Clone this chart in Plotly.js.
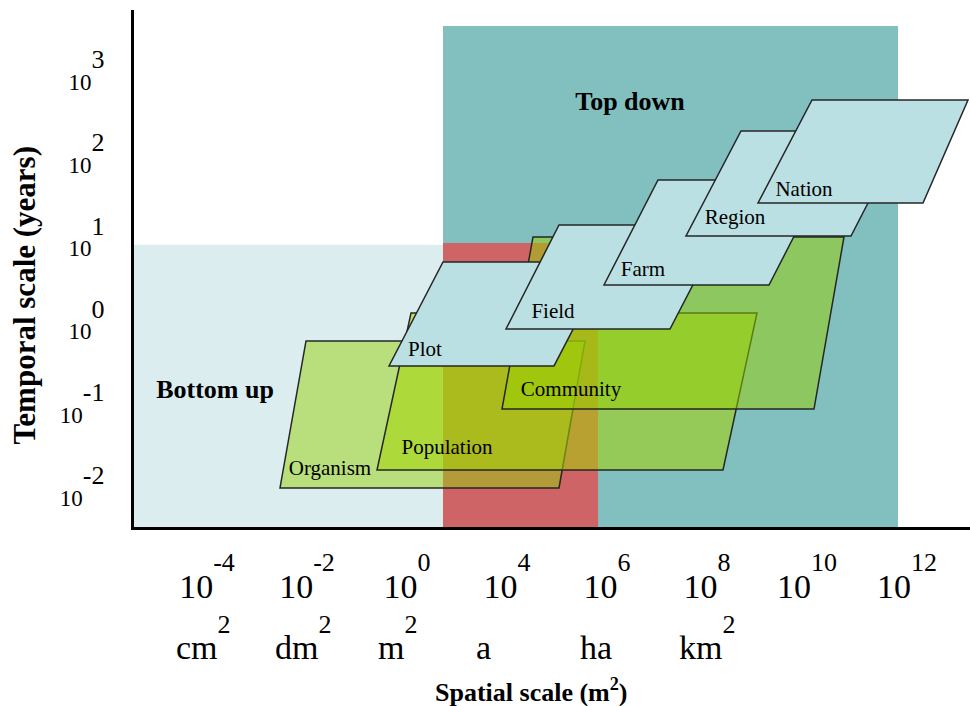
<!DOCTYPE html>
<html><head><meta charset="utf-8">
<script src="https://cdn.plot.ly/plotly-3.0.1.min.js"></script>
<style>html,body{margin:0;padding:0;background:#fff}#chart{width:970px;height:706px}</style>
</head><body><div id="chart"></div>
<script>
// ---- x axis: spatial scale steps (ordered positions) ----
const xTickPos = [0, 1, 2, 3, 4, 5, 6, 7];
const xTickExp = ['-4', '-2', '0', '4', '6', '8', '10', '12'];
const unitNames = ['cm', 'dm', 'm', 'a', 'ha', 'km'];
const unitSquared = [true, true, true, false, false, true];
const unitPos = [-0.035, 0.96, 1.90, 2.76, 3.89, 5.0];

// ---- y axis: temporal scale, log10(years) ----
const yTickPos = [-2, -1, 0, 1, 2, 3];

// ---- approach zones ----
const zoneNames = ['Bottom up', 'Top down', 'Overlap'];
const zoneXMin = [-0.73, 2.36, 2.36];
const zoneXMax = [2.36, 6.91, 3.91];
const zoneTMin = [-2.351, -2.351, -2.351];
const zoneTMax = [1.04, 3.67, 1.063];
const zoneLabelX = [0.08, 4.23];
const zoneLabelT = [-0.728, 2.745];

// ---- hierarchical levels (parallelograms) ----
const levelNames = ['Organism', 'Population', 'Community', 'Plot', 'Field', 'Farm', 'Region', 'Nation'];
const levelBotXMin = [0.73, 1.70, 2.95, 1.82, 2.99, 3.97, 4.79, 5.51];
const levelBotXMax = [3.52, 5.16, 6.07, 3.47, 4.63, 5.62, 6.44, 7.16];
const levelTopXMin = [0.99, 2.04, 3.26, 2.36, 3.52, 4.51, 5.34, 6.05];
const levelTopXMax = [3.78, 5.50, 6.37, 4.01, 5.17, 6.16, 6.98, 7.61];
const levelTMin = [-1.882, -1.666, -0.933, -0.415, 0.029, 0.558, 1.147, 1.543];
const levelTMax = [-0.115, 0.221, 1.135, 0.834, 1.279, 1.820, 2.409, 2.781];
const levelLabelX = [1.23, 2.40, 3.64, 2.18, 3.46, 4.36, 5.28, 5.97];
const levelLabelT = [-1.666, -1.413, -0.716, -0.234, 0.22, 0.726, 1.351, 1.687];

const zoneColors = ['#dcedf0', '#82bfbf', '#cf6467'];
const levelColors = ['rgba(150,210,10,0.5)', 'rgba(165,212,5,0.55)', 'rgba(150,209,0,0.5)',
  '#bbe0e3', '#bbe0e3', '#bbe0e3', '#bbe0e3', '#bbe0e3'];

const serif = 'Liberation Serif, Times New Roman, serif';
const sup = (t, size, lift) => '<sup><span style="font-size:' + size + 'px;baseline-shift:' + lift + 'px">' + t + '</span></sup>';

const shapes = [];
zoneNames.forEach((n, i) => {
  shapes.push({type: 'rect', xref: 'x', yref: 'y', layer: 'below',
    x0: zoneXMin[i], x1: zoneXMax[i], y0: zoneTMin[i], y1: zoneTMax[i],
    fillcolor: zoneColors[i], line: {width: 0}});
});
levelNames.forEach((n, i) => {
  const p = 'M' + levelBotXMin[i] + ',' + levelTMin[i] +
    ' L' + levelBotXMax[i] + ',' + levelTMin[i] +
    ' L' + levelTopXMax[i] + ',' + levelTMax[i] +
    ' L' + levelTopXMin[i] + ',' + levelTMax[i] + ' Z';
  shapes.push({type: 'path', xref: 'x', yref: 'y', layer: 'below', path: p,
    fillcolor: levelColors[i], line: {color: '#262626', width: 1.5}});
});

const annotations = unitNames.map((u, i) => ({
  xref: 'x', yref: 'paper', x: unitPos[i], y: -0.273, yanchor: 'bottom', xanchor: 'center',
  showarrow: false, text: u + (unitSquared[i] ? sup('2', 26, 12) : ''),
  font: {family: serif, size: 34, color: '#000'}
}));
annotations.push({
  xref: 'paper', yref: 'paper', x: 0.4749, y: -0.3172, xanchor: 'center', yanchor: 'middle',
  showarrow: false, text: '<b>Spatial scale (m<sup>2</sup>)</b>',
  font: {family: serif, size: 26, color: '#000'}
});
annotations.push({
  xref: 'paper', yref: 'paper', x: -0.1304, y: 0.4478, xanchor: 'center', yanchor: 'middle',
  textangle: -90, showarrow: false, text: '<b>Temporal scale (years)</b>',
  font: {family: serif, size: 31, color: '#000'}
});

const traces = [
  {type: 'scatter', mode: 'text', x: levelLabelX, y: levelLabelT, text: levelNames,
   textposition: 'middle center', cliponaxis: false, hoverinfo: 'skip', showlegend: false,
   textfont: {family: serif, size: 21, color: '#000'}},
  {type: 'scatter', mode: 'text', x: zoneLabelX, y: zoneLabelT,
   text: zoneNames.slice(0, 2).map(t => '<b>' + t + '</b>'),
   textposition: 'middle center', cliponaxis: false, hoverinfo: 'skip', showlegend: false,
   textfont: {family: serif, size: 26, color: '#000'}}
];

const layout = {
  width: 970, height: 706,
  margin: {l: 134, r: 0, t: 10, b: 179},
  paper_bgcolor: '#fff', plot_bgcolor: '#fff',
  showlegend: false,
  xaxis: {
    range: [-0.73, 7.63], showgrid: false, zeroline: false,
    showline: true, linecolor: '#000', linewidth: 3,
    tickmode: 'array', tickvals: xTickPos,
    ticktext: xTickExp.map(e => '10' + sup(e, 26, 13)),
    ticks: '', ticklabelstandoff: 27,
    tickfont: {family: serif, size: 34, color: '#000'}
  },
  yaxis: {
    range: [-2.351, 3.863], showgrid: false, zeroline: false,
    showline: true, linecolor: '#000', linewidth: 3,
    tickmode: 'array', tickvals: yTickPos,
    ticktext: yTickPos.map(e => '10' + sup(e, 26, 12)),
    ticks: '', ticklabelstandoff: 22,
    tickfont: {family: serif, size: 23, color: '#000'}
  },
  shapes: shapes,
  annotations: annotations
};

Plotly.newPlot('chart', traces, layout, {staticPlot: true, displayModeBar: false});
</script>
</body></html>
